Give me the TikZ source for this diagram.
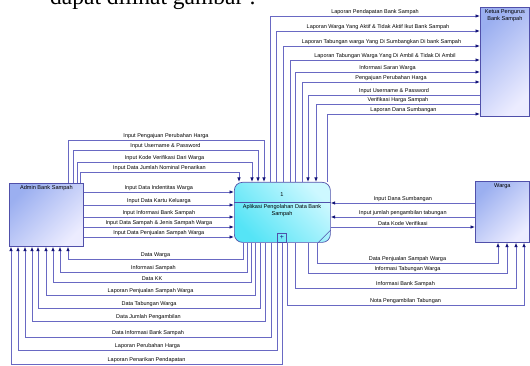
\documentclass[tikz,border=0pt]{standalone}
\usepackage{fontspec}
\usepackage{xcolor}
\usepackage{tikz}
\usetikzlibrary{arrows.meta, positioning}
\newfontfamily\dfdfont{Liberation Sans}
\newfontfamily\pagefont{Liberation Serif}
\definecolor{flowline}{RGB}{105,105,195}
\definecolor{flowtip}{RGB}{20,20,120}
\definecolor{entline}{RGB}{80,80,170}
\definecolor{entdark}{RGB}{155,175,240}
\definecolor{entlight}{RGB}{236,236,255}
\definecolor{procdark}{RGB}{85,228,246}
\definecolor{proclight}{RGB}{205,248,255}

\begin{document}
\begin{tikzpicture}[
    x=1pt, y=-1pt,
    entity/.style={draw=entline, line width=0.7pt, top color=entdark, bottom color=entlight, shading angle=45, inner sep=0pt, anchor=north west},
    title/.style={anchor=north, font=\dfdfont\fontsize{5.6}{7}\selectfont, align=center, inner sep=2.5pt},
    process/.style={draw=entline, line width=0.7pt, rounded corners=8pt, top color=proclight, bottom color=procdark, shading angle=-45, inner sep=0pt, anchor=north west},
    lbl/.style={above, font=\dfdfont\fontsize{5.5}{6}\selectfont, inner sep=0.8pt},
    flow/.style={draw=flowline, line width=0.8pt, -{Latex[length=4.5pt, width=3.6pt, color=flowtip]}},
]
    \useasboundingbox (0,0) rectangle (530,366);
    \clip (0,0) rectangle (530,366);

    \node[anchor=base west, font=\pagefont\fontsize{23.5}{28}\selectfont, inner sep=0pt] (pagetext) at (50,5) {dapat dilihat gambar :};

    % entities and process
    \node[entity, minimum width=74pt, minimum height=63pt, label={[title]north:Admin Bank Sampah}] (admin) at (9,183) {};
    \node[entity, minimum width=49pt, minimum height=109pt, label={[title]north:Ketua Pengurus\\Bank Sampah}] (ketua) at (480,7) {};
    \node[entity, minimum width=54pt, minimum height=61pt, label={[title]north:Warga}] (warga) at (475,181) {};
    \node[process, minimum width=96pt, minimum height=60pt] (proc) at (234,182) {};
    \draw[entline, line width=0.6pt] (proc.west |- 0,202) -- (proc.east |- 0,202);
    \draw[entline, line width=0.6pt] (proc.south east -| 318,0) -- (proc.east |- 0,230);
    \node[title, anchor=center] (procno) at (282,195) {1};
    \node[title, anchor=north, inner sep=0pt] (procname) at (282,204) {Aplikasi Pengolahan Data Bank\\Sampah};
    \node[draw=entline, line width=0.6pt, minimum width=9pt, minimum height=9pt, inner sep=0pt, font=\dfdfont\fontsize{7}{7}\selectfont, text=flowtip] (plus) at (282,237.5) {+};

    % admin -> process (top)
    \draw[flow] (admin.north -| 68,0) -- (68,140) -- node[lbl] {Input Pengajuan Perubahan Harga} (264,140) -- (proc.north -| 264,0);
    \draw[flow] (admin.north -| 73,0) -- (73,150) -- node[lbl] {Input Username \& Password} (258,150) -- (proc.north -| 258,0);
    \draw[flow] (admin.north -| 77,0) -- (77,162) -- node[lbl] {Input Kode Verifikasi Dari Warga} (252,162) -- (proc.north -| 252,0);
    \draw[flow] (admin.north -| 80,0) -- (80,172) -- node[lbl] {Input Data Jumlah Nominal Penarikan} (239,172) -- (proc.north -| 239,0);

    % admin -> process (side)
    \draw[flow] (admin.east |- 0,192) -- node[lbl] {Input Data Indentitas Warga} (proc.west |- 0,192);
    \draw[flow] (admin.east |- 0,205) -- node[lbl] {Input Data Kartu Keluarga} (proc.west |- 0,205);
    \draw[flow] (admin.east |- 0,217) -- node[lbl] {Input Informasi Bank Sampah} (proc.west |- 0,217);
    \draw[flow] (admin.east |- 0,227) -- node[lbl] {Input Data Sampah \& Jenis Sampah Warga} (proc.west |- 0,227);
    \draw[flow] (admin.east |- 0,237) -- node[lbl] {Input Data Penjualan Sampah Warga} (proc.west |- 0,237);

    % process -> admin (bottom)
    \draw[flow] (proc.south -| 243,0) -- (243,259) -- node[lbl] {Data Warga} (68,259) -- (admin.south -| 68,0);
    \draw[flow] (proc.south -| 247,0) -- (247,272) -- node[lbl] {Informasi Sampah} (60,272) -- (admin.south -| 60,0);
    \draw[flow] (proc.south -| 251,0) -- (251,282) -- node[lbl] {Data KK} (53,282) -- (admin.south -| 53,0);
    \draw[flow] (proc.south -| 255,0) -- (255,295) -- node[lbl] {Laporan Penjualan Sampah Warga} (46,295) -- (admin.south -| 46,0);
    \draw[flow] (proc.south -| 260,0) -- (260,308) -- node[lbl] {Data Tabungan Warga} (38,308) -- (admin.south -| 38,0);
    \draw[flow] (proc.south -| 265,0) -- (265,321) -- node[lbl] {Data Jumlah Pengambilan} (32,321) -- (admin.south -| 32,0);
    \draw[flow] (proc.south -| 271,0) -- (271,337) -- node[lbl] {Data Informasi Bank Sampah} (25,337) -- (admin.south -| 25,0);
    \draw[flow] (proc.south -| 277,0) -- (277,350) -- node[lbl] {Laporan Perubahan Harga} (18,350) -- (admin.south -| 18,0);
    \draw[flow] (proc.south -| 282,0) -- (282,364) -- node[lbl] {Laporan Penarikan Pendapatan} (11,364) -- (admin.south -| 11,0);

    % process <-> ketua
    \draw[flow] (proc.north -| 270,0) -- (270,16) -- node[lbl] {Laporan Pendapatan Bank Sampah} (ketua.west |- 0,16);
    \draw[flow] (proc.north -| 276,0) -- (276,31) -- node[lbl] {Laporan Warga Yang Aktif \& Tidak Aktif Ikut Bank Sampah} (ketua.west |- 0,31);
    \draw[flow] (proc.north -| 283,0) -- (283,46) -- node[lbl] {Laporan Tabungan warga Yang Di Sumbangkan Di bank Sampah} (ketua.west |- 0,46);
    \draw[flow] (proc.north -| 290,0) -- (290,60) -- node[lbl] {Laporan Tabungan Warga Yang Di Ambil \& Tidak Di Ambil} (ketua.west |- 0,60);
    \draw[flow] (proc.north -| 295,0) -- (295,72) -- node[lbl] {Informasi Saran Warga} (ketua.west |- 0,72);
    \draw[flow] (proc.north -| 302,0) -- (302,82) -- node[lbl] {Pengajuan Perubahan Harga} (ketua.west |- 0,82);
    \draw[flow] (ketua.west |- 0,95) -- node[lbl] {Input Username \& Password} (308,95) -- (proc.north -| 308,0);
    \draw[flow] (ketua.west |- 0,104) -- node[lbl] {Verifikasi Harga Sampah} (316,104) -- (proc.north -| 316,0);
    \draw[flow] (proc.north -| 327,0) -- (327,114) -- node[lbl] {Laporan Dana Sumbangan} (ketua.west |- 0,114);

    % process <-> warga
    \draw[flow] (warga.west |- 0,203) -- node[lbl] {Input Dana Sumbangan} (proc.east |- 0,203);
    \draw[flow] (warga.west |- 0,217) -- node[lbl] {Input jumlah pengambilan tabungan} (proc.east |- 0,217);
    \draw[flow] (proc.east |- 0,227) -- node[lbl] {Data Kode Verifikasi} (warga.west |- 0,227);
    \draw[flow] (proc.south -| 317,0) -- (317,263) -- node[lbl] {Data Penjualan Sampah Warga} (498,263) -- (warga.south -| 498,0);
    \draw[flow] (proc.south -| 308,0) -- (308,273) -- node[lbl] {Informasi Tabungan Warga} (507,273) -- (warga.south -| 507,0);
    \draw[flow] (proc.south -| 295,0) -- (295,288) -- node[lbl] {Informasi Bank Sampah} (516,288) -- (warga.south -| 516,0);
    \draw[flow] (proc.south -| 287,0) -- (287,305) -- node[lbl] {Nota Pengambilan Tabungan} (524,305) -- (warga.south -| 524,0);
\end{tikzpicture}
\end{document}
